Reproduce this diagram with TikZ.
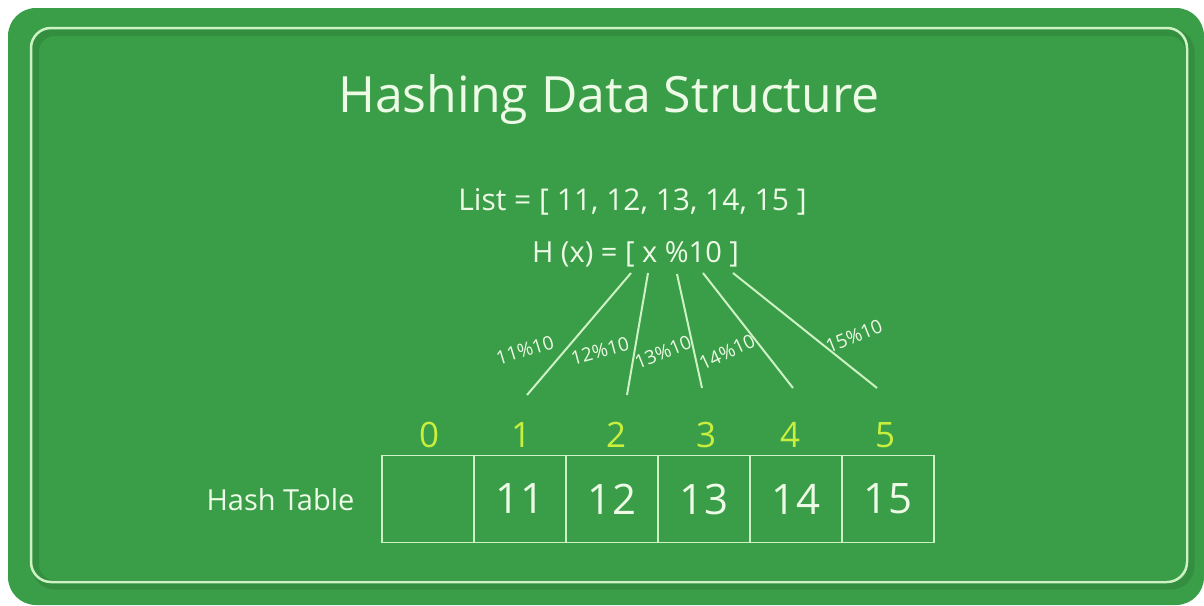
\documentclass[tikz,border=0pt]{standalone}
\usepackage{fontspec}
\setmainfont{Open Sans}
\definecolor{bgc}{RGB}{58,157,72}
\definecolor{darkc}{RGB}{51,142,63}
\definecolor{linec}{RGB}{205,242,196}
\definecolor{txtc}{RGB}{236,250,230}
\definecolor{idxc}{RGB}{200,238,62}
\begin{document}
\begin{tikzpicture}[x=1pt,y=-1pt,
  txt/.style={text=txtc, inner sep=0pt, anchor=base},
  idx/.style={text=idxc, font=\fontsize{35}{40}\selectfont, inner sep=0pt, anchor=base},
  cell/.style={draw=linec, line width=1.8pt, minimum width=92pt, minimum height=87pt, inner sep=0pt, text=txtc, font=\fontsize{42}{48}\selectfont},
  conn/.style={draw=linec, line width=2pt},
  lbl/.style={text=txtc, font=\fontsize{19}{22}\selectfont, inner sep=0pt}
]
\useasboundingbox (0,0) rectangle (1204,605);
\fill[white] (0,0) rectangle (1204,605);
\fill[bgc, rounded corners=28pt] (8,8) rectangle (1204,605);
% embossed frame
\draw[darkc, line width=7pt, rounded corners=20pt] (35,32) rectangle (1191,586);
\fill[bgc, rounded corners=20pt] (31,28) rectangle (1187,582);
\begin{scope}
  \clip[rounded corners=20pt] (31,28) rectangle (1187,582);
  \draw[darkc, line width=10pt, rounded corners=20pt] (34,31) rectangle (1190,585);
\end{scope}
\draw[linec, line width=2.5pt, rounded corners=20pt] (31,28) rectangle (1187,582);

% texts
\node[txt, font=\fontsize{50}{60}\selectfont] (title) at (609,112) {Hashing Data Structure};
\node[txt, font=\fontsize{30}{34}\selectfont] (list) at (632.5,210) {List = [ 11, 12, 13, 14, 15 ]};
\node[txt, font=\fontsize{29}{34}\selectfont] (hx) at (635.5,262) {H (x) = [ x \%10 ]};
\node[txt, font=\fontsize{29}{34}\selectfont] (ht) at (280.5,510) {Hash Table};

% table
\node[cell] (c0) at (428,499) {};
\node[cell] (c1) at (520,499) {11};
\node[cell] (c2) at (612,499) {12};
\node[cell] (c3) at (704,499) {13};
\node[cell] (c4) at (796,499) {14};
\node[cell] (c5) at (888,499) {15};

% indices
\node[idx] (i0) at (429,447) {0};
\node[idx] (i1) at (521,447) {1};
\node[idx] (i2) at (616,447) {2};
\node[idx] (i3) at (706,447) {3};
\node[idx] (i4) at (790,447) {4};
\node[idx] (i5) at (885,447) {5};

% connectors
\coordinate (t1) at (631,273); \coordinate (b1) at (527,395);
\coordinate (t2) at (648,273); \coordinate (b2) at (627,395);
\coordinate (t3) at (677,274); \coordinate (b3) at (702,388);
\coordinate (t4) at (703,273); \coordinate (b4) at (793,388);
\coordinate (t5) at (733,273); \coordinate (b5) at (877,388);
\draw[conn] (t1) -- (b1);
\draw[conn] (t2) -- (b2);
\draw[conn] (t3) -- (b3);
\draw[conn] (t4) -- (b4);
\draw[conn] (t5) -- (b5);

% labels
\node[lbl, rotate=17] (l1) at (525,350) {11\%10};
\node[lbl, rotate=15] (l2) at (600,351) {12\%10};
\node[lbl, rotate=22] (l3) at (663,352) {13\%10};
\node[lbl, rotate=25] (l4) at (727,352) {14\%10};
\node[lbl, rotate=22] (l5) at (854,336) {15\%10};
\end{tikzpicture}
\end{document}
